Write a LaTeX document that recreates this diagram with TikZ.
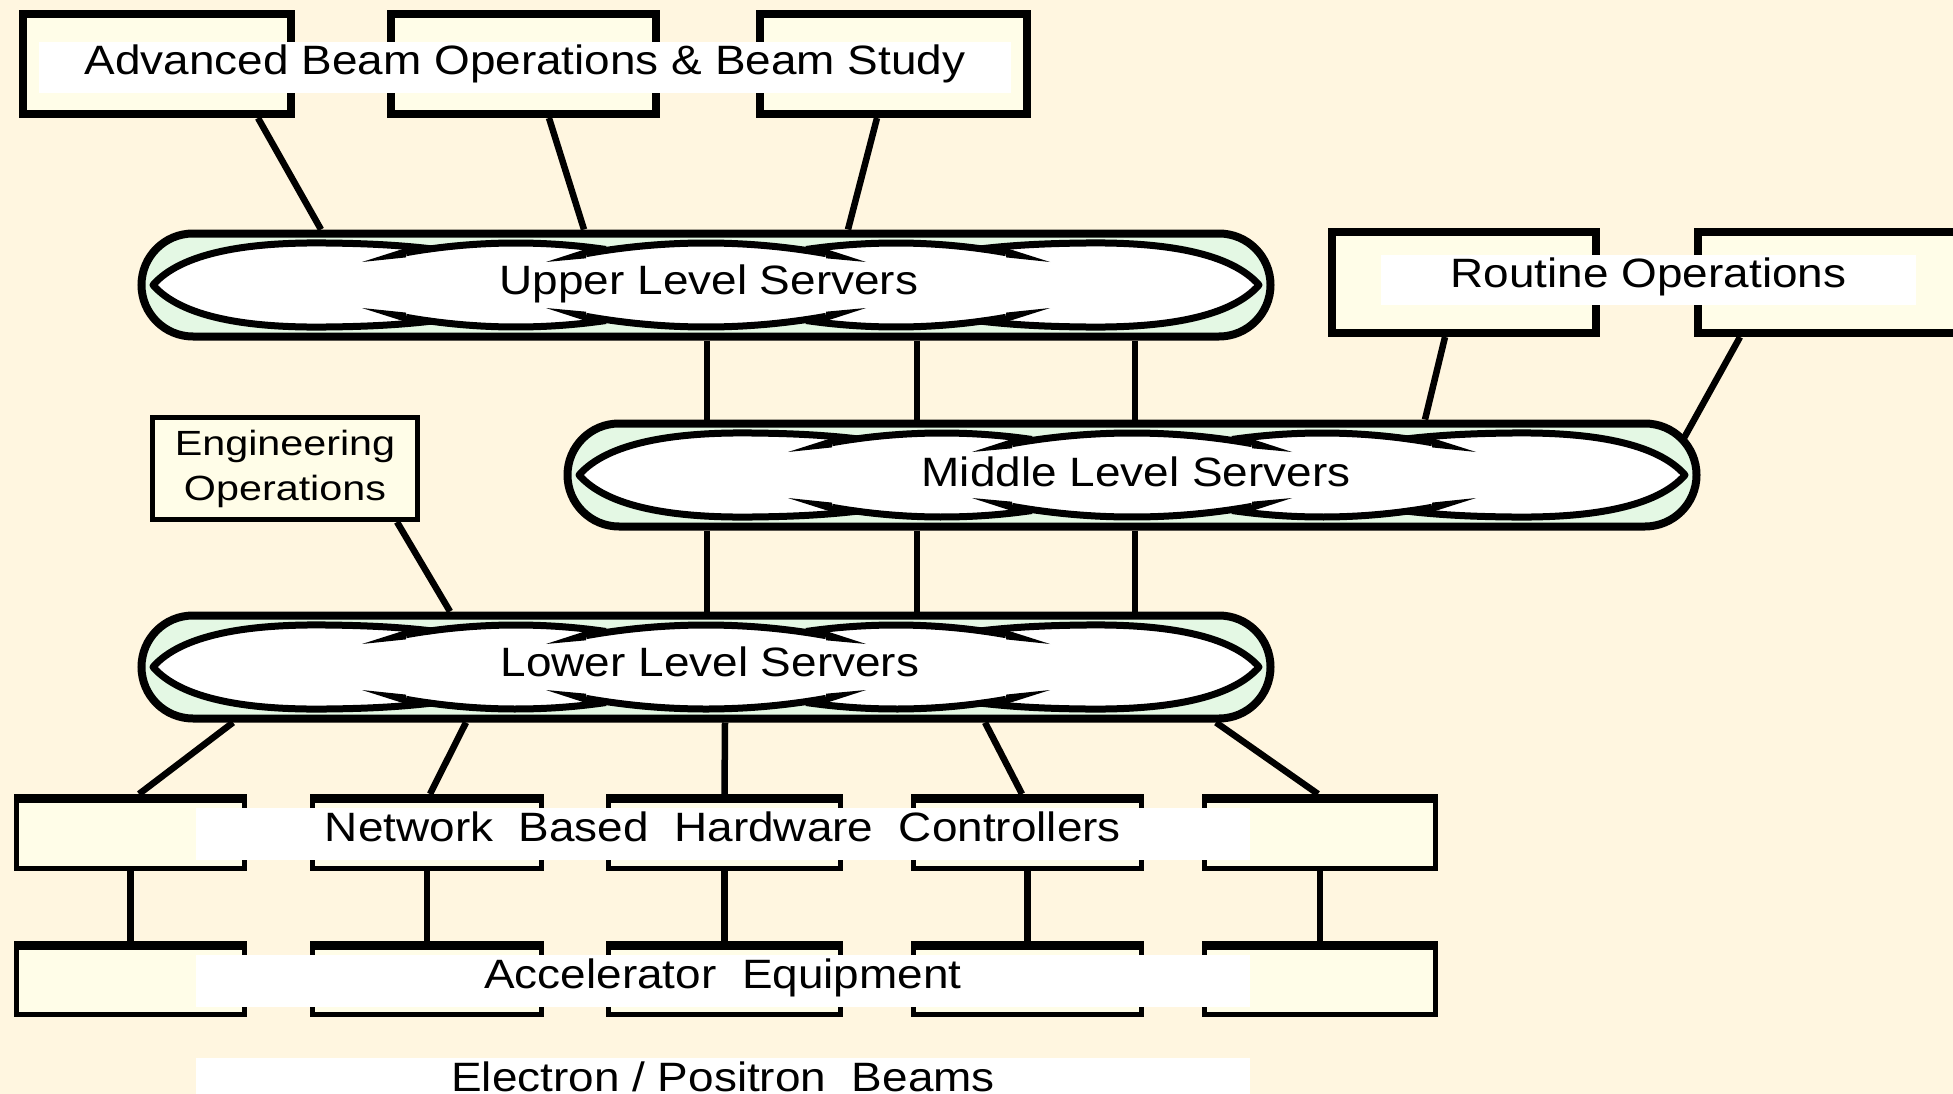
\documentclass[tikz,border=0pt]{standalone}
\usepackage{fontspec}
\setmainfont{Liberation Sans}
\usepackage{graphicx}
\usetikzlibrary{calc}
\definecolor{bgcol}{HTML}{FFF6E0}
\definecolor{boxfill}{HTML}{FFFDE8}
\definecolor{capfill}{HTML}{E4F8E4}
\newcommand\wide[1]{\scalebox{1.12}[1]{#1}}
\newcommand\lens[2]{%
 \begin{scope}[shift={(#1,#2)}]
  \fill[white] (-553,0) .. controls (-525,-32) and (-460,-43) .. (-380,-42) .. controls (-330,-41.5) and (-300,-39) .. (-275,-36.2)
   -- plot[domain=-275:-100,samples=20] (\x,{lobeA(\x)})
   -- plot[domain=-100:100,samples=30] (\x,{lobeC(\x)})
   -- plot[domain=100:275,samples=20] (\x,{lobeB(\x)})
   -- (275,-36.2) .. controls (300,-39) and (330,-41.5) .. (380,-42) .. controls (460,-43) and (525,-32) .. (553,0)
   .. controls (525,32) and (460,43) .. (380,42) .. controls (330,41.5) and (300,39) .. (275,36.2)
   -- plot[domain=-275:-100,samples=20] (-\x,{-lobeB(-\x)})
   -- plot[domain=-100:100,samples=30] (-\x,{-lobeC(-\x)})
   -- plot[domain=100:275,samples=20] (-\x,{-lobeA(-\x)})
   -- (-275,36.2) .. controls (-300,39) and (-330,41.5) .. (-380,42) .. controls (-460,43) and (-525,32) .. (-553,0) -- cycle;
  \draw[lensline] (-275,36.2) .. controls (-300,39) and (-330,41.5) .. (-380,42) .. controls (-460,43) and (-525,32) .. (-553,0)
    .. controls (-525,-32) and (-460,-43) .. (-380,-42) .. controls (-330,-41.5) and (-300,-39) .. (-275,-36.2);
  \draw[lensline] (275,36.2) .. controls (300,39) and (330,41.5) .. (380,42) .. controls (460,43) and (525,32) .. (553,0)
    .. controls (525,-32) and (460,-43) .. (380,-42) .. controls (330,-41.5) and (300,-39) .. (275,-36.2);
  \draw[lensline] plot[domain=-300:-100,samples=25] (\x,{lobeA(\x)});
  \draw[lensline] plot[domain=-300:-100,samples=25] (\x,{-lobeA(\x)});
  \draw[lensline] plot[domain=100:300,samples=25] (\x,{lobeB(\x)});
  \draw[lensline] plot[domain=100:300,samples=25] (\x,{-lobeB(\x)});
  \draw[lensline] plot[domain=-120:120,samples=40] (\x,{lobeC(\x)});
  \draw[lensline] plot[domain=-120:120,samples=40] (\x,{-lobeC(\x)});
  \foreach \sx in {1,-1} \foreach \sy in {1,-1} {
    \fill[black] ({\sx*(-344)},{\sy*(-23)}) -- ({\sx*(-300)},{\sy*(-37)}) -- ({\sx*(-300)},{\sy*(-27.6)}) -- cycle;
    \fill[black] ({\sx*(-160)},{\sy*(-23)}) -- ({\sx*(-120)},{\sy*(-36)}) -- ({\sx*(-120)},{\sy*(-26.7)}) -- cycle;
  }
 \end{scope}}
\begin{document}
\begin{tikzpicture}[x=1pt,y=-1pt,
  declare function={lobeA(\t)=-42+18*((\t+190)/150)*((\t+190)/150);
                    lobeB(\t)=-42+18*((\t-190)/150)*((\t-190)/150);
                    lobeC(\t)=-42+18*(\t/156)*(\t/156);},
  lensline/.style={line width=7pt, line join=round},
  bigbox/.style={draw, line width=8pt, fill=boxfill, inner sep=0, minimum height=100pt},
  smallbox/.style={draw, line width=5pt, fill=boxfill, inner sep=0, minimum height=72pt},
  topbar/.style={line width=9pt},
  capsule/.style={draw, line width=8pt, fill=capfill, rounded corners=51.5pt, minimum width=1129pt, minimum height=103pt, inner sep=0},
  lbl/.style={inner sep=0, text height=30pt, text depth=15pt, font=\fontsize{41}{49}\selectfont},
  band/.style={fill=white, inner sep=0, text height=30pt, text depth=15pt, font=\fontsize{41}{49}\selectfont},
  engbox/.style={draw, line width=5pt, fill=boxfill, minimum width=265pt, minimum height=102pt, inner sep=0, align=center, font=\fontsize{35}{45}\selectfont},
  conn/.style={line width=6.5pt}]
\useasboundingbox (0,0) rectangle (1953,1094);
\clip (0,0) rectangle (1953,1094);
\fill[bgcol] (0,0) rectangle (1953,1094);

% top boxes
\node[bigbox, minimum width=268pt] (t1) at (157,64) {};
\node[bigbox, minimum width=265pt] (t2) at (523.5,64) {};
\node[bigbox, minimum width=267pt] (t3) at (893.5,64) {};
\node[band, minimum width=972pt, minimum height=51pt] (advT) at (525,67.5) {\wide{Advanced Beam Operations \& Beam Study}};

% routine operations
\node[bigbox, minimum width=264pt, minimum height=101pt] (r1) at (1464,282.5) {};
\node[bigbox, minimum width=270pt, minimum height=101pt] (r2) at (1833,282.5) {};
\node[band, minimum width=535pt, minimum height=50pt] (rouT) at (1648.5,280) {\wide{Routine Operations}};

% server levels
\node[capsule] (upper) at (706,285) {};
\lens{706}{285}
\node[lbl] (upperT) at (709,287) {\wide{Upper Level Servers}};
\node[capsule] (middle) at (1132,475) {};
\lens{1132}{475}
\node[lbl] (middleT) at (1136,479) {\wide{Middle Level Servers}};
\node[capsule] (lower) at (706,667) {};
\lens{706}{667}
\node[lbl] (lowerT) at (710,669) {\wide{Lower Level Servers}};

% engineering operations
\node[engbox] (eng) at (285,468.5) {\scalebox{1.18}[1]{Engineering}\\\scalebox{1.18}[1]{Operations}};

% controllers and equipment
\node[smallbox, minimum width=228pt] (c1) at (130.5,832.5) {};
\node[smallbox, minimum width=229pt] (c2) at (427,832.5) {};
\node[smallbox, minimum width=232pt] (c3) at (724.5,832.5) {};
\node[smallbox, minimum width=228pt] (c4) at (1027.5,832.5) {};
\node[smallbox, minimum width=231pt] (c5) at (1320,832.5) {};
\node[smallbox, minimum width=228pt, minimum height=71pt] (e1) at (130.5,979) {};
\node[smallbox, minimum width=229pt, minimum height=71pt] (e2) at (427,979) {};
\node[smallbox, minimum width=232pt, minimum height=71pt] (e3) at (724.5,979) {};
\node[smallbox, minimum width=228pt, minimum height=71pt] (e4) at (1027.5,979) {};
\node[smallbox, minimum width=231pt, minimum height=71pt] (e5) at (1320,979) {};
\foreach \n in {c1,c2,c3,c4,c5,e1,e2,e3,e4,e5}
  \draw[topbar] ([yshift=-4.5pt]\n.north west) -- ([yshift=-4.5pt]\n.north east);

\node[band, minimum width=1054pt, minimum height=52pt] (nbT) at (723,834) {\wide{Network\ \ Based\ \ Hardware\ \ Controllers}};
\node[band, minimum width=1054pt, minimum height=52pt] (aeT) at (723,981) {\wide{Accelerator\ \ Equipment}};
\node[band, minimum width=1054pt, minimum height=52pt] (epT) at (723,1084) {\wide{Electron / Positron\ \ Beams}};

% connectors
\draw[conn] ([xshift=101pt]t1.south) -- ([xshift=-385pt]upper.north);
\draw[conn] ([xshift=25.5pt]t2.south) -- ([xshift=-122pt]upper.north);
\draw[conn] ([xshift=-16.5pt]t3.south) -- ([xshift=142pt]upper.north);
\foreach \a/\b in {1/-425, 211/-215, 429/3} {
  \draw[conn] ([xshift=\a pt]upper.south) -- ([xshift=\b pt]middle.north);
  \draw[conn] ([xshift=\b pt]middle.south) -- ([xshift=\a pt]lower.north);
}
\draw[conn] ([xshift=-19pt]r1.south) -- ([xshift=293pt]middle.north);
\coordinate (mc) at ($(middle.center)+(552,-37)$);
\draw[conn] ([xshift=-93pt]r2.south) -- (mc);
\draw[conn] ([xshift=112pt]eng.south) -- ([xshift=-256pt]lower.north);
\draw[conn] ([xshift=-473pt]lower.south) -- ([xshift=8.5pt]c1.north);
\draw[conn] ([xshift=-240pt]lower.south) -- ([xshift=3pt]c2.north);
\draw[conn] ([xshift=19pt]lower.south) -- ([xshift=0pt]c3.north);
\draw[conn] ([xshift=279pt]lower.south) -- ([xshift=-5.5pt]c4.north);
\draw[conn] ([xshift=510pt]lower.south) -- ([xshift=-2pt]c5.north);
\foreach \i in {1,...,5}
  \draw[conn] (c\i.south) -- (e\i.north);
\end{tikzpicture}
\end{document}
